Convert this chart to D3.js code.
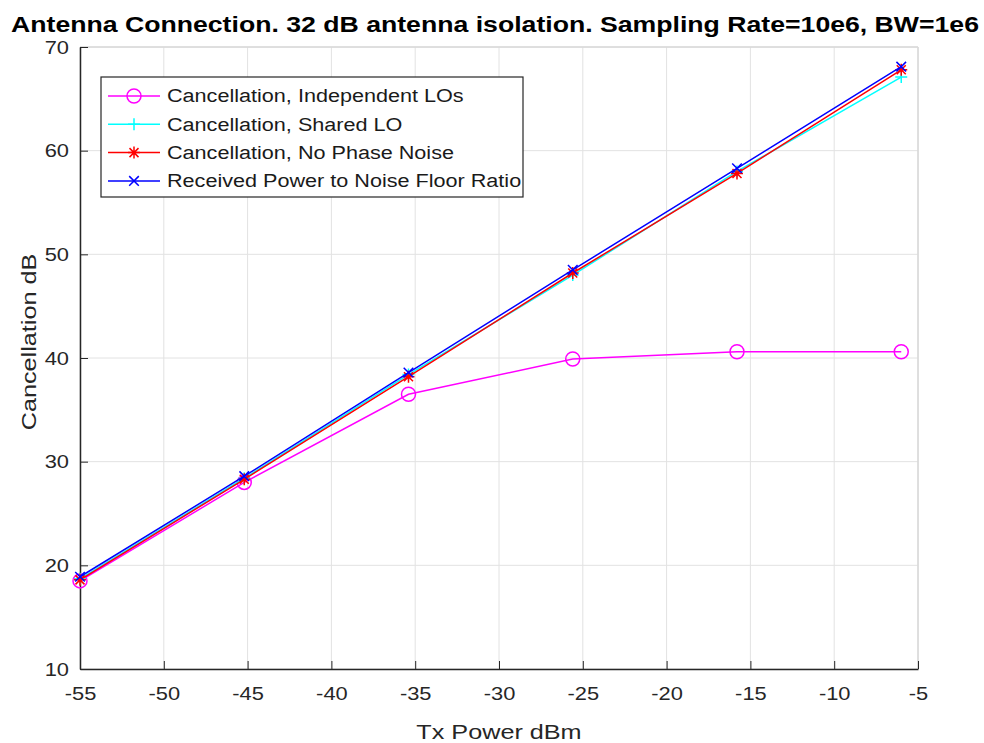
<!DOCTYPE html>
<html>
<head>
	<meta charset="utf-8">
	<script type="text/javascript" src="https://cdn.jsdelivr.net/npm/d3@7/dist/d3.min.js"></script>
	<title>Antenna Connection</title>
	<style>
		body { margin: 0; background: #fff; }
		text { font-family: "Liberation Sans", Arial, sans-serif; }
	</style>
</head>
<body>
	<script type="text/javascript">

	// data
	var txPower = [-55, -45.2, -35.4, -25.6, -15.8, -6];
	var indepLOs = [18.5, 28.0, 36.5, 39.9, 40.6, 40.6];
	var sharedLO = [18.7, 28.4, 38.4, 48.0, 58.0, 67.1];
	var noPhaseNoise = [18.6, 28.3, 38.2, 48.2, 57.8, 67.8];
	var rxToNoise = [18.9, 28.6, 38.6, 48.5, 58.3, 68.1];

	var xTicks = [-55, -50, -45, -40, -35, -30, -25, -20, -15, -10, -5];
	var yTicks = [10, 20, 30, 40, 50, 60, 70];

	var seriesNames = ["Cancellation, Independent LOs", "Cancellation, Shared LO",
		"Cancellation, No Phase Noise", "Received Power to Noise Floor Ratio"];

	var series = [
		{ name: seriesNames[0], values: indepLOs, color: "#ff00ff", marker: "circle" },
		{ name: seriesNames[1], values: sharedLO, color: "#00ffff", marker: "plus" },
		{ name: seriesNames[2], values: noPhaseNoise, color: "#ff0000", marker: "star" },
		{ name: seriesNames[3], values: rxToNoise, color: "#0000ff", marker: "cross" }
	];

	var widthSvg = 984;
	var heightSvg = 743;
	var plotLeft = 80, plotRight = 918, plotTop = 47, plotBottom = 669;
	var axisColor = "#262626";

	var svg = d3.select("body")
		.append("svg")
		.attr("width", widthSvg)
		.attr("height", heightSvg);

	// the reference font runs wider than Liberation Sans, so stretch texts a bit
	function widen(stretch) {
		return function(sel) {
			sel.each(function() {
				var len = this.getComputedTextLength();
				d3.select(this).attr("textLength", len * stretch).attr("lengthAdjust", "spacingAndGlyphs");
			});
		};
	}

	var xScale = d3.scaleLinear().domain([-55, -5]).range([plotLeft, plotRight]);
	var yScale = d3.scaleLinear().domain([10, 70]).range([plotBottom, plotTop]);

	// grid
	var grid = svg.append("g").attr("stroke", "#e2e2e2").attr("stroke-width", 1);
	xTicks.forEach(function(t) {
		grid.append("line")
			.attr("x1", xScale(t)).attr("x2", xScale(t))
			.attr("y1", plotTop).attr("y2", plotBottom);
	});
	yTicks.forEach(function(t) {
		grid.append("line")
			.attr("x1", plotLeft).attr("x2", plotRight)
			.attr("y1", yScale(t)).attr("y2", yScale(t));
	});

	// top and right borders, no labels
	svg.append("line").attr("x1", plotLeft).attr("x2", plotRight).attr("y1", plotTop).attr("y2", plotTop)
		.attr("stroke", "#d8d8d8").attr("stroke-width", 1.5);
	svg.append("line").attr("x1", plotRight).attr("x2", plotRight).attr("y1", plotTop).attr("y2", plotBottom)
		.attr("stroke", "#d8d8d8").attr("stroke-width", 1.5);

	// axes (MATLAB style, ticks inside)
	var fmt = function(d) { return String(d); };
	var xAxis = d3.axisBottom(xScale).tickValues(xTicks).tickFormat(fmt)
		.tickSizeInner(-8).tickSizeOuter(0).tickPadding(18);
	var yAxis = d3.axisLeft(yScale).tickValues(yTicks).tickFormat(fmt)
		.tickSizeInner(-8).tickSizeOuter(0).tickPadding(11);

	var gx = svg.append("g").attr("transform", "translate(0," + plotBottom + ")").call(xAxis);
	var gy = svg.append("g").attr("transform", "translate(" + plotLeft + ",0)").call(yAxis);
	[gx, gy].forEach(function(g) {
		g.select(".domain").attr("stroke", axisColor).attr("stroke-width", 1.5);
		g.selectAll(".tick line").attr("stroke", axisColor);
		g.selectAll(".tick text").attr("fill", axisColor).attr("font-size", 19)
			.attr("font-family", "Liberation Sans, Arial, sans-serif")
			.call(widen(1.15));
	});

	function drawMarker(g, type, x, y, color) {
		var s = 6;
		if (type == "circle") {
			g.append("circle").attr("cx", x).attr("cy", y).attr("r", 7)
				.attr("fill", "none").attr("stroke", color).attr("stroke-width", 1.5);
		} else {
			var p = d3.path();
			if (type == "plus" || type == "star") {
				p.moveTo(x - s, y); p.lineTo(x + s, y);
				p.moveTo(x, y - s); p.lineTo(x, y + s);
			}
			if (type == "cross" || type == "star") {
				var c = type == "star" ? s * 0.75 : s * 0.8;
				p.moveTo(x - c, y - c); p.lineTo(x + c, y + c);
				p.moveTo(x - c, y + c); p.lineTo(x + c, y - c);
			}
			g.append("path").attr("d", p.toString()).attr("fill", "none")
				.attr("stroke", color).attr("stroke-width", 1.5);
		}
	}

	var line = d3.line()
		.x(function(d, i) { return xScale(txPower[i]); })
		.y(function(d) { return yScale(d); });

	series.forEach(function(s) {
		var g = svg.append("g");
		g.append("path").attr("d", line(s.values))
			.attr("fill", "none").attr("stroke", s.color).attr("stroke-width", 1.5);
		s.values.forEach(function(v, i) {
			drawMarker(g, s.marker, xScale(txPower[i]), yScale(v), s.color);
		});
	});

	// legend
	var legend = svg.append("g").attr("transform", "translate(101,77)");
	legend.append("rect").attr("width", 422).attr("height", 120)
		.attr("fill", "#fff").attr("stroke", axisColor).attr("stroke-width", 1.2);
	series.forEach(function(s, i) {
		var ly = 19 + i * 28.3;
		legend.append("line").attr("x1", 7).attr("x2", 59).attr("y1", ly).attr("y2", ly)
			.attr("stroke", s.color).attr("stroke-width", 1.5);
		drawMarker(legend, s.marker, 33, ly, s.color);
		legend.append("text").attr("x", 66).attr("y", ly).attr("dy", "0.36em")
			.attr("font-size", 18).attr("fill", "#1a1a1a").text(s.name)
			.call(widen(1.2));
	});

	// title and axis labels
	svg.append("text").attr("x", 495).attr("y", 32).attr("text-anchor", "middle")
		.attr("font-size", 21.5).attr("font-weight", "bold").attr("fill", "#000")
		.text("Antenna Connection. 32 dB antenna isolation. Sampling Rate=10e6, BW=1e6")
		.attr("textLength", 968).attr("lengthAdjust", "spacingAndGlyphs");
	svg.append("text").attr("x", (plotLeft + plotRight) / 2).attr("y", 739).attr("text-anchor", "middle")
		.attr("font-size", 21).attr("fill", axisColor).text("Tx Power dBm")
		.call(widen(1.2));
	svg.append("text").attr("transform", "translate(36,342) rotate(-90)")
		.attr("text-anchor", "middle").attr("font-size", 21).attr("fill", axisColor)
		.text("Cancellation dB")
		.call(widen(1.2));

	</script>
</body>
</html>
